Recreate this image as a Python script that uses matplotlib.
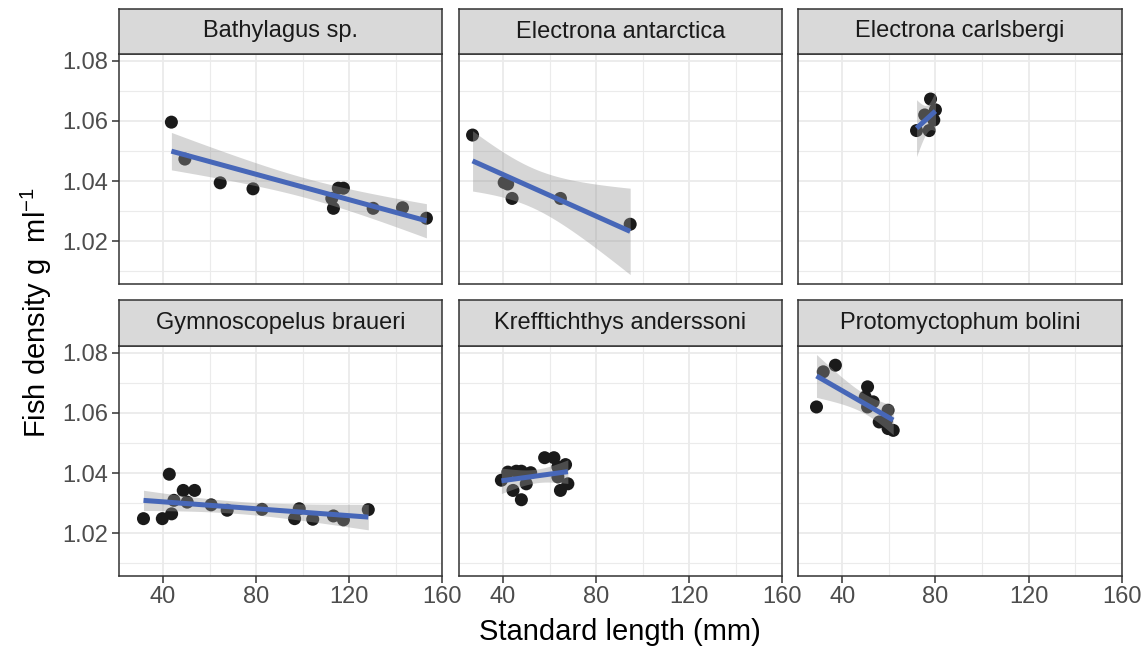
import numpy as np
import matplotlib
matplotlib.use("Agg")
import matplotlib.pyplot as plt

plt.rcParams["font.family"] = ["Liberation Sans", "DejaVu Sans"]
plt.rcParams["mathtext.fontset"] = "custom"
plt.rcParams["mathtext.rm"] = "Liberation Sans"
plt.rcParams["mathtext.it"] = "Liberation Sans:italic"

# ---- data: standard length (mm) and fish density (g/ml) per species ----
species = ["Bathylagus sp.", "Electrona antarctica", "Electrona carlsbergi",
           "Gymnoscopelus braueri", "Krefftichthys anderssoni", "Protomyctophum bolini"]

bathylagus_len = [43.6, 49.4, 64.6, 78.7, 112.6, 113.3, 115.4, 117.6, 130.4, 143.0, 153.3]
bathylagus_den = [1.0596, 1.0473, 1.0394, 1.0374, 1.0342, 1.0309, 1.0376, 1.0376, 1.0309, 1.0311, 1.0276]

antarctica_len = [26.9, 40.5, 42.0, 43.9, 64.7, 94.7]
antarctica_den = [1.0553, 1.0395, 1.0390, 1.0342, 1.0342, 1.0256]

carlsbergi_len = [77.9, 80.0, 79.3, 71.9, 77.3, 75.4]
carlsbergi_den = [1.0673, 1.0637, 1.0603, 1.0568, 1.0568, 1.0620]

braueri_len = [31.6, 39.7, 43.7, 42.7, 44.7, 48.7, 53.6, 50.4, 60.7, 67.6,
               82.6, 96.6, 98.6, 104.4, 113.3, 117.6, 128.3]
braueri_den = [1.0248, 1.0248, 1.0264, 1.0396, 1.0309, 1.0342, 1.0342, 1.0303, 1.0294, 1.0276,
               1.0279, 1.0248, 1.0281, 1.0246, 1.0257, 1.0244, 1.0278]

anderssoni_len = [39.3, 42.1, 45.7, 47.9, 51.9, 44.3, 47.9, 50.0, 57.9, 61.9,
                  66.9, 64.7, 67.9, 63.6, 63.6]
anderssoni_den = [1.0376, 1.0403, 1.0406, 1.0406, 1.0401, 1.0342, 1.0311, 1.0364, 1.0451, 1.0451,
                  1.0428, 1.0342, 1.0364, 1.0387, 1.0420]

bolini_len = [29.0, 31.9, 37.1, 50.9, 49.9, 53.3, 50.9, 59.7, 55.9, 59.7, 61.9, 59.0]
bolini_den = [1.0620, 1.0737, 1.0759, 1.0687, 1.0653, 1.0637, 1.0620, 1.0609, 1.0570, 1.0548, 1.0542, 1.0575]

lengths = [bathylagus_len, antarctica_len, carlsbergi_len, braueri_len, anderssoni_len, bolini_len]
densities = [bathylagus_den, antarctica_den, carlsbergi_den, braueri_den, anderssoni_den, bolini_den]

x_ticks = [40, 80, 120, 160]
y_ticks = [1.02, 1.04, 1.06, 1.08]

# two-sided 95% t quantiles
T975 = [12.706, 4.303, 3.182, 2.776, 2.571, 2.447, 2.365, 2.306, 2.262, 2.228,
        2.201, 2.179, 2.160, 2.145, 2.131, 2.120, 2.110, 2.101, 2.093, 2.086,
        2.080, 2.074, 2.069, 2.064, 2.060, 2.056, 2.052, 2.048, 2.045, 2.042]


def lm_band(x, y, n_grid=80):
    x = np.asarray(x, float)
    y = np.asarray(y, float)
    n = len(x)
    xm, ym = x.mean(), y.mean()
    sxx = ((x - xm) ** 2).sum()
    b = ((x - xm) * (y - ym)).sum() / sxx
    a = ym - b * xm
    resid = y - (a + b * x)
    s = np.sqrt((resid ** 2).sum() / (n - 2))
    t = T975[n - 3] if n - 2 <= len(T975) else 1.96
    xg = np.linspace(x.min(), x.max(), n_grid)
    yg = a + b * xg
    se = s * np.sqrt(1.0 / n + (xg - xm) ** 2 / sxx)
    return xg, yg, yg - t * se, yg + t * se


W, H = 1143, 648
fig = plt.figure(figsize=(W / 100, H / 100), dpi=100)

cols = [(119, 442), (459, 782), (798, 1122)]
rows = [(9, 54, 284), (300, 346, 576)]  # strip top, panel top, panel bottom

dark = "#333333"
xlim = (21.07, 160.0)
ylim = (1.0057, 1.0823)

for i, name in enumerate(species):
    r, c = divmod(i, 3)
    x0, x1 = cols[c]
    st, pt, pb = rows[r]

    ax = fig.add_axes([x0 / W, 1 - pb / H, (x1 - x0) / W, (pb - pt) / H])
    ax.set_xlim(*xlim)
    ax.set_ylim(*ylim)
    ax.set_xticks(x_ticks)
    ax.set_yticks(y_ticks)
    ax.set_xticks([60, 100, 140], minor=True)
    ax.set_yticks([1.01, 1.03, 1.05, 1.07], minor=True)
    ax.grid(True, which="major", color="#EBEBEB", lw=1.3, zorder=0)
    ax.grid(True, which="minor", color="#EBEBEB", lw=0.8, zorder=0)
    ax.set_axisbelow(True)
    for sp in ax.spines.values():
        sp.set_color(dark)
        sp.set_linewidth(1.1)
    ax.tick_params(which="minor", length=0)
    ax.tick_params(which="major", length=5, width=1.1, color=dark,
                   labelsize=17, labelcolor="#4D4D4D", pad=2.5)
    if r == 0:
        ax.tick_params(axis="x", which="major", length=0, labelbottom=False)
    if c != 0:
        ax.tick_params(axis="y", which="major", length=0, labelleft=False)
    else:
        ax.set_yticklabels([f"{v:.2f}" for v in y_ticks])

    xs, ys = lengths[i], densities[i]
    ax.scatter(xs, ys, s=88, color="#1A1A1A", edgecolors="none", zorder=2)
    xg, yg, lo, hi = lm_band(xs, ys)
    ax.fill_between(xg, lo, hi, color="#999999", alpha=0.4, lw=0, zorder=3)
    ax.plot(xg, yg, color="#4767B8", lw=3.6, solid_capstyle="butt", zorder=4)

    # facet strip
    sax = fig.add_axes([x0 / W, 1 - pt / H, (x1 - x0) / W, (pt - st) / H])
    sax.set_facecolor("#D9D9D9")
    sax.set_xticks([])
    sax.set_yticks([])
    for sp in sax.spines.values():
        sp.set_color(dark)
        sp.set_linewidth(1.1)
    sax.text(0.5, 0.5, name, ha="center", va="center", fontsize=17,
             color="#1A1A1A", transform=sax.transAxes)

fig.text(620 / W, 1 - 632 / H, "Standard length (mm)", ha="center", va="center",
         fontsize=21, color="black")
fig.text(36 / W, 1 - 312 / H, r"Fish density g  ml$^{-1}$", ha="center", va="center",
         rotation=90, fontsize=21, color="black")

fig.savefig("out.png", dpi=100)
